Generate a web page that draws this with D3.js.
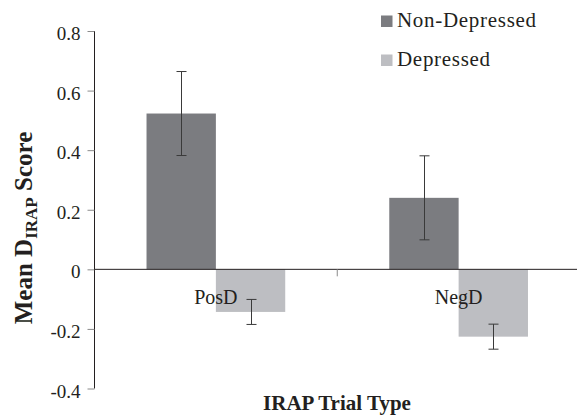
<!DOCTYPE html>
<html><head><meta charset="utf-8">
<script src="https://cdn.jsdelivr.net/npm/d3@7"></script>
<style>
html,body{margin:0;padding:0;background:#fff;}
svg{display:block;}
text{font-family:"Liberation Serif","Times New Roman",serif;fill:#231f20;}
</style></head>
<body>
<svg id="chart" width="577" height="415"></svg>
<script>
const categories = ["PosD", "NegD"];
const seriesNames = ["Non-Depressed", "Depressed"];
const nonDepressed = [0.523, 0.240];
const depressed = [-0.143, -0.226];
const nonDepressedErr = [0.141, 0.141];
const depressedErr = [0.042, 0.042];
const yTicks = [-0.4, -0.2, 0, 0.2, 0.4, 0.6, 0.8];
const yTickLabels = ["-0.4", "-0.2", "0", "0.2", "0.4", "0.6", "0.8"];
const colors = ["#7b7c80", "#bdbec2"];

const svg = d3.select("#chart");
const x = d3.scaleBand().domain(categories).range([94.5, 580]).paddingInner(0).paddingOuter(0);
const y = d3.scaleLinear().domain([-0.4, 0.8]).range([388.5, 31]);
const bw = x.bandwidth() / 3.5;

const rows = [];
categories.forEach((c, i) => {
  rows.push({cat: c, s: 0, v: nonDepressed[i], e: nonDepressedErr[i]});
  rows.push({cat: c, s: 1, v: depressed[i], e: depressedErr[i]});
});
const xPos = d => x(d.cat) + x.bandwidth() / 2 + (d.s - 1) * bw;

// bars
svg.append("g").selectAll("rect").data(rows).join("rect")
  .attr("x", d => xPos(d))
  .attr("width", bw)
  .attr("y", d => y(Math.max(0, d.v)))
  .attr("height", d => Math.abs(y(d.v) - y(0)))
  .attr("fill", d => colors[d.s]);

// y axis
const yAxis = d3.axisLeft(y).tickValues(yTicks).tickSize(7).tickPadding(7)
  .tickFormat((d, i) => yTickLabels[i]);
const gy = svg.append("g").attr("transform", "translate(94.5,0)").call(yAxis);
gy.select(".domain").attr("stroke", "#231f20").attr("d", `M0,${y(0.8)}V${y(-0.4)}`);
gy.selectAll(".tick line").attr("stroke", "#8a8a8a");
gy.selectAll(".tick text").style("font-size", "19px").attr("dy", "0.45em").attr("fill", "#231f20");

// x axis at zero
const xAxis = d3.axisBottom(x).tickSize(0).tickFormat("");
const gx = svg.append("g").attr("transform", `translate(0,${y(0)})`).call(xAxis);
gx.select(".domain").attr("stroke", "#231f20").attr("d", "M94.5,0H577");
gx.selectAll(".tick").remove();
// category separator tick
gx.append("line").attr("x1", x("NegD")).attr("x2", x("NegD")).attr("y1", 0).attr("y2", 7)
  .attr("stroke", "#8a8a8a");

// error bars
const eb = svg.append("g").attr("stroke", "#3a3a3a").attr("stroke-width", 1);
rows.forEach(d => {
  const cx = Math.round(xPos(d) + bw / 2) + 0.5;
  const t = y(d.v + d.e), b = y(d.v - d.e);
  eb.append("line").attr("x1", cx).attr("x2", cx).attr("y1", t).attr("y2", b);
  eb.append("line").attr("x1", cx - 5).attr("x2", cx + 5).attr("y1", t).attr("y2", t);
  eb.append("line").attr("x1", cx - 5).attr("x2", cx + 5).attr("y1", b).attr("y2", b);
});

// category labels
svg.append("g").selectAll("text").data(categories).join("text")
  .attr("x", d => x(d) + x.bandwidth() / 2)
  .attr("y", 304)
  .attr("text-anchor", "middle")
  .style("font-size", "20px")
  .text(d => d);

// legend
const leg = svg.append("g");
seriesNames.forEach((n, i) => {
  const by = 27 + i * 39;
  leg.append("rect").attr("x", 381).attr("y", by - 11.5).attr("width", 11.5).attr("height", 11.5).attr("fill", colors[i]);
  leg.append("text").attr("x", 397).attr("y", by).style("font-size", "21px").style("letter-spacing", "0.7px").text(n);
});

// axis titles
svg.append("text").attr("x", 337).attr("y", 410).attr("text-anchor", "middle")
  .style("font-size", "21px").style("font-weight", "bold").text("IRAP Trial Type");

const yt = svg.append("text").attr("transform", "translate(32,228) rotate(-90)")
  .attr("text-anchor", "middle").style("font-size", "25px").style("font-weight", "bold");
yt.append("tspan").text("Mean D");
yt.append("tspan").attr("dy", 5).style("font-size", "17px").text("IRAP");
yt.append("tspan").attr("dy", -5).text(" Score");
</script>
</body></html>
